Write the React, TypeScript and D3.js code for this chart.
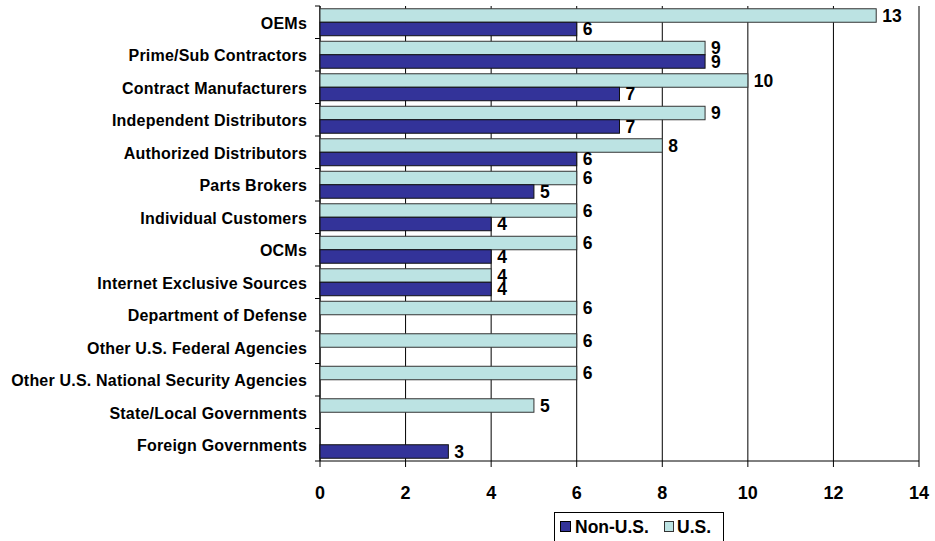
import React from "react";
import * as d3 from "d3";

const categories = [
  "OEMs",
  "Prime/Sub Contractors",
  "Contract Manufacturers",
  "Independent Distributors",
  "Authorized Distributors",
  "Parts Brokers",
  "Individual Customers",
  "OCMs",
  "Internet Exclusive Sources",
  "Department of Defense",
  "Other U.S. Federal Agencies",
  "Other U.S. National Security Agencies",
  "State/Local Governments",
  "Foreign Governments",
];
const nonUS = [6, 9, 7, 7, 6, 5, 4, 4, 4, 0, 0, 0, 0, 3];
const us = [13, 9, 10, 9, 8, 6, 6, 6, 4, 6, 6, 6, 5, 0];
const xTicks = [0, 2, 4, 6, 8, 10, 12, 14];
const seriesNames = ["Non-U.S.", "U.S."];

const NAVY = "#333399";
const CYAN = "#BCE3E3";
const FONT = "'Liberation Sans', Arial, sans-serif";

export default function App() {
  const W = 935;
  const H = 541;
  const left = 320;
  const right = 919;
  const top = 6;
  const bottom = 461;

  const x = d3.scaleLinear().domain([0, 14]).range([left, right]);
  const y = d3
    .scaleBand<string>()
    .domain(categories)
    .range([top, bottom])
    .paddingInner(0.17)
    .paddingOuter(0.085);
  const step = (bottom - top) / categories.length;
  const barH = y.bandwidth() / 2;

  const boundaries = d3.range(categories.length + 1).map((i) => top + i * step);

  return (
    <svg
      width={W}
      height={H}
      style={{ position: "absolute", left: 0, top: 0, background: "#fff" }}
      fontFamily={FONT}
    >
      {/* vertical gridlines */}
      {xTicks.map((t) => (
        <line
          key={"g" + t}
          x1={x(t)}
          x2={x(t)}
          y1={top}
          y2={bottom + 6}
          stroke="#000"
          strokeWidth={1}
        />
      ))}
      {/* left axis ticks */}
      {boundaries.map((b, i) => (
        <line key={"lt" + i} x1={left - 5} x2={left} y1={b} y2={b} stroke="#000" />
      ))}
      {/* bottom axis */}
      <line x1={left} x2={right} y1={bottom} y2={bottom} stroke="#000" />
      <line x1={left} x2={left} y1={top} y2={bottom} stroke="#000" />

      {/* bars */}
      {categories.map((c, i) => {
        const y0 = y(c)!;
        return (
          <g key={c}>
            {us[i] > 0 && (
              <g>
                <rect
                  x={x(0)}
                  y={y0}
                  width={x(us[i]) - x(0)}
                  height={barH}
                  fill={CYAN}
                  stroke="#333"
                  strokeWidth={1}
                />
                <text
                  x={x(us[i]) + 6}
                  y={y0 + barH / 2}
                  dy="0.36em"
                  fontSize={17.5}
                  fontWeight="bold"
                >
                  {us[i]}
                </text>
              </g>
            )}
            {nonUS[i] > 0 && (
              <g>
                <rect
                  x={x(0)}
                  y={y0 + barH}
                  width={x(nonUS[i]) - x(0)}
                  height={barH}
                  fill={NAVY}
                  stroke="#111"
                  strokeWidth={1}
                />
                <text
                  x={x(nonUS[i]) + 6}
                  y={y0 + barH * 1.5}
                  dy="0.36em"
                  fontSize={17.5}
                  fontWeight="bold"
                >
                  {nonUS[i]}
                </text>
              </g>
            )}
            <text
              x={307}
              y={y0 + y.bandwidth() / 2 + 0.5}
              dy="0.36em"
              textAnchor="end"
              fontSize={16}
              letterSpacing={0.2}
              fontWeight="bold"
            >
              {c}
            </text>
          </g>
        );
      })}

      {/* x tick labels */}
      {xTicks.map((t) => (
        <text
          key={"xl" + t}
          x={x(t)}
          y={493}
          dy="0.36em"
          textAnchor="middle"
          fontSize={18}
          fontWeight="bold"
        >
          {t}
        </text>
      ))}

      {/* legend */}
      <rect x={554.5} y={512.5} width={169} height={32} fill="#fff" stroke="#000" />
      <rect x={560.5} y={521.5} width={10} height={10} fill={NAVY} stroke="#000" />
      <text x={575} y={527} dy="0.36em" fontSize={17.5} fontWeight="bold">
        {seriesNames[0]}
      </text>
      <rect x={664.5} y={521.5} width={9} height={10} fill={CYAN} stroke="#333" />
      <text x={677} y={527} dy="0.36em" fontSize={17.5} fontWeight="bold">
        {seriesNames[1]}
      </text>
    </svg>
  );
}
